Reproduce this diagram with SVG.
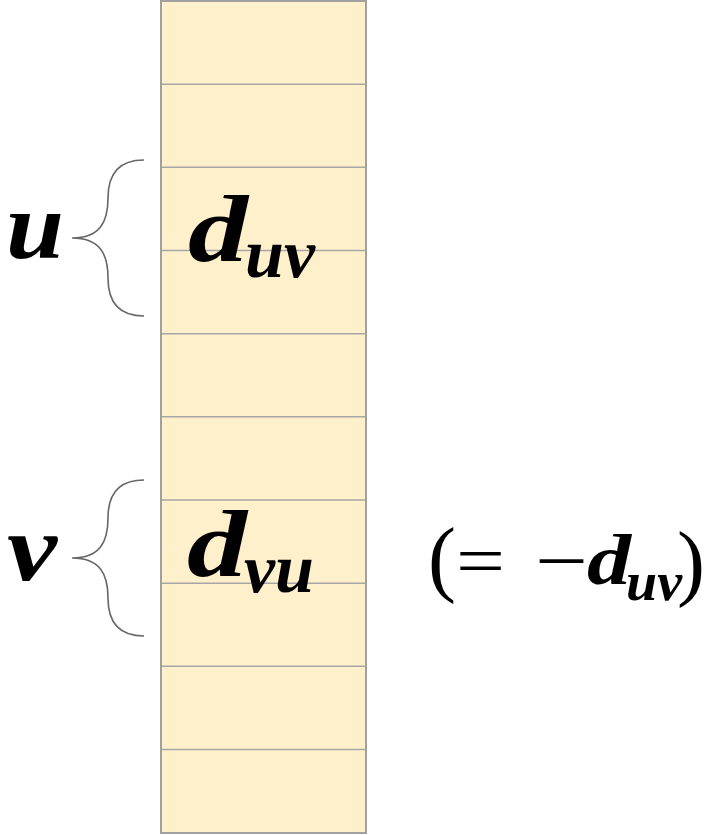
<svg xmlns="http://www.w3.org/2000/svg" width="706" height="835" viewBox="0 0 706 835">
  <style>
    .cell { fill: #FFF0CC; stroke: none; }
    .div { stroke: #A6A6A6; stroke-width: 1.6; fill: none; }
    .frame { fill: none; stroke: #A0A0A0; stroke-width: 2; }
    .brace { fill: none; stroke: #666666; stroke-width: 1.6; }
    .m { font-family: "Liberation Serif", serif; font-style: italic; font-weight: bold; fill: #000; }
    .r { font-family: "Liberation Serif", serif; fill: #000; }
  </style>
  <g id="array">
    <rect class="cell" x="161" y="1" width="205" height="832"/>
    <g class="div">
      <line x1="161" y1="84.2" x2="366" y2="84.2"/>
      <line x1="161" y1="167.3" x2="366" y2="167.3"/>
      <line x1="161" y1="250.5" x2="366" y2="250.5"/>
      <line x1="161" y1="333.7" x2="366" y2="333.7"/>
      <line x1="161" y1="416.8" x2="366" y2="416.8"/>
      <line x1="161" y1="500" x2="366" y2="500"/>
      <line x1="161" y1="583.2" x2="366" y2="583.2"/>
      <line x1="161" y1="666.3" x2="366" y2="666.3"/>
      <line x1="161" y1="749.5" x2="366" y2="749.5"/>
    </g>
    <rect class="frame" x="161" y="1" width="205" height="832"/>
  </g>
  <g id="brace-u">
    <path class="brace" d="M144,160 C118,160 108,175 108,198 C108,222 100,238 72,238 C100,238 108,254 108,278 C108,301 118,316 144,316"/>
    <text class="m" x="6" y="258" font-size="96" textLength="58" lengthAdjust="spacingAndGlyphs">u</text>
  </g>
  <g id="brace-v">
    <path class="brace" d="M144,480 C118,480 108,495 108,518 C108,542 100,558 72,558 C100,558 108,574 108,598 C108,621 118,636 144,636"/>
    <text class="m" x="7" y="580" font-size="96" textLength="50" lengthAdjust="spacingAndGlyphs">v</text>
  </g>
  <g id="label-duv">
    <text class="m" x="188" y="261" font-size="96" textLength="60" lengthAdjust="spacingAndGlyphs">d</text>
    <text class="m" x="245" y="277" font-size="70" textLength="70" lengthAdjust="spacingAndGlyphs">uv</text>
  </g>
  <g id="label-dvu">
    <text class="m" x="187" y="576" font-size="96" textLength="60" lengthAdjust="spacingAndGlyphs">d</text>
    <text class="m" x="244" y="592" font-size="70" textLength="70" lengthAdjust="spacingAndGlyphs">vu</text>
  </g>
  <g id="label-neg">
    <text class="r" x="428" y="586" font-size="84">(</text>
    <text class="r" x="456" y="585" font-size="72" textLength="49" lengthAdjust="spacingAndGlyphs">=</text>
    <text class="r" x="535" y="585" font-size="72" textLength="53" lengthAdjust="spacingAndGlyphs">−</text>
    <text class="m" x="587" y="584" font-size="72" textLength="44" lengthAdjust="spacingAndGlyphs">d</text>
    <text class="m" x="626" y="600" font-size="54" textLength="56" lengthAdjust="spacingAndGlyphs">uv</text>
    <text class="r" x="705" y="590" font-size="84" text-anchor="end">)</text>
  </g>
</svg>
